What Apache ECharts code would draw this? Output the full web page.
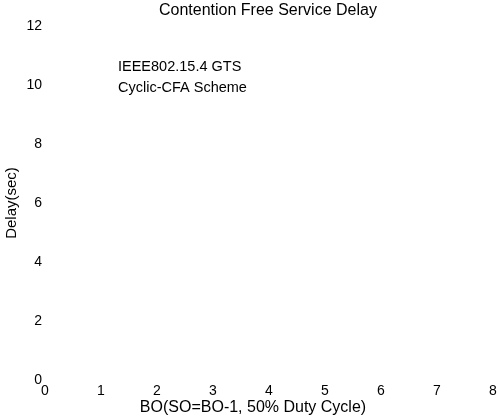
<!DOCTYPE html>
<html>
<head>
<meta charset="utf-8">
<script src="https://cdn.jsdelivr.net/npm/echarts@6/dist/echarts.min.js"></script>
<style>
  html, body { margin: 0; padding: 0; background: #fff; }
  #chart { width: 497px; height: 420px; }
</style>
</head>
<body>
<div id="chart"></div>
<script>
// x axis: BO values, y axis: delay in seconds
const boValues = [0, 1, 2, 3, 4, 5, 6, 7, 8]
const seriesNames = ['IEEE802.15.4 GTS', 'Cyclic-CFA Scheme']
// no curves are visible in the reference, so both series stay empty
const gtsDelay = []
const cyclicDelay = []

const font = 'Liberation Sans, Arial, Helvetica, sans-serif'

const chart = echarts.init(document.getElementById('chart'))
chart.setOption({
    animation: false,
    backgroundColor: '#fff',
    title: {
        text: 'Contention Free Service Delay',
        left: 154,
        top: -2,
        textStyle: { fontFamily: font, fontSize: 16, fontWeight: 'normal', color: '#000' }
    },
    legend: {
        orient: 'vertical',
        left: 108,
        top: 54,
        icon: 'none',
        itemWidth: 0,
        itemGap: 6,
        data: seriesNames,
        textStyle: { fontFamily: font, fontSize: 14.5, color: '#000' }
    },
    grid: { left: 45, right: 4, top: 26, bottom: 40, outerBoundsMode: 'none' },
    xAxis: {
        type: 'value',
        min: 0,
        max: 8,
        interval: 1,
        name: 'BO(SO=BO-1, 50% Duty Cycle)',
        nameLocation: 'middle',
        nameGap: 20,
        nameMoveOverlap: false,
        nameTextStyle: { fontFamily: font, fontSize: 16, color: '#000', padding: [0, 32, 0, 0] },
        axisLine: { show: false },
        axisTick: { show: false },
        splitLine: { show: false },
        axisLabel: { fontFamily: font, fontSize: 14, color: '#000', margin: 4 }
    },
    yAxis: {
        type: 'value',
        min: 0,
        max: 12,
        interval: 2,
        name: 'Delay(sec)',
        nameLocation: 'middle',
        nameGap: 26,
        nameMoveOverlap: false,
        nameTextStyle: { fontFamily: font, fontSize: 15, color: '#000' },
        axisLine: { show: false },
        axisTick: { show: false },
        splitLine: { show: false },
        axisLabel: { fontFamily: font, fontSize: 14, color: '#000', margin: 3 }
    },
    series: [
        { name: seriesNames[0], type: 'line', data: gtsDelay.map((d, i) => [boValues[i], d]), symbol: 'none', lineStyle: { color: '#000' } },
        { name: seriesNames[1], type: 'line', data: cyclicDelay.map((d, i) => [boValues[i], d]), symbol: 'none', lineStyle: { color: '#000' } }
    ]
})
</script>
</body>
</html>
